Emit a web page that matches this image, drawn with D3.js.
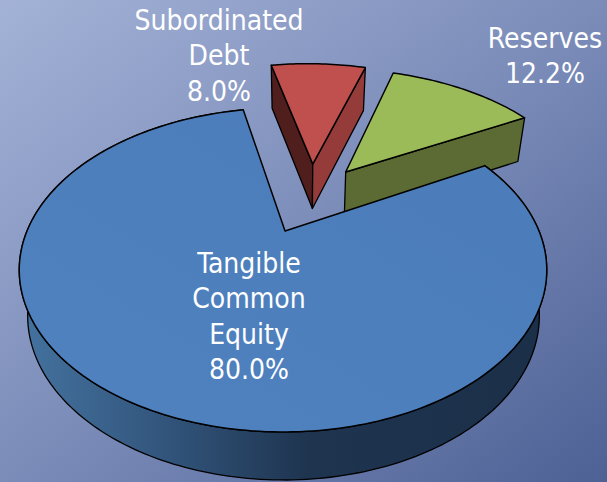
<!DOCTYPE html>
<html>
<head>
<meta charset="utf-8">
<script src="https://cdnjs.cloudflare.com/ajax/libs/d3/7.8.5/d3.min.js"></script>
<style>
html, body { margin: 0; padding: 0; overflow: hidden; }
text { font-family: "DejaVu Sans Condensed", "DejaVu Sans", sans-serif; fill: #fff; text-anchor: middle; }
</style>
</head>
<body>
<div id="chart"></div>
<script>
var categories = ["Tangible Common Equity", "Subordinated Debt", "Reserves"];
var values = [80.0, 8.0, 12.2];
var labelLines = [["Tangible", "Common", "Equity"], ["Subordinated", "Debt"], ["Reserves"]];

var width = 607;
var height = 482;

var svg = d3.select("#chart").append("svg")
    .attr("width", width)
    .attr("height", height)
    .style("display", "block");

// Gradients
var defs = svg.append("defs");
function addGradient(id, x1, y1, x2, y2, stops) {
    var g = defs.append("linearGradient")
        .attr("id", id)
        .attr("x1", x1).attr("y1", y1).attr("x2", x2).attr("y2", y2);
    stops.forEach(s => g.append("stop").attr("offset", s[0]).attr("stop-color", s[1]));
}
addGradient("bg", "0%", "0%", "100%", "100%", [[0, "#a3b2d6"], [0.5, "#7b8cb9"], [1, "#4d6195"]]);
addGradient("blueWall", "0", "0", "1", "0", [[0, "#44739f"], [0.25, "#345880"], [0.55, "#1e344f"], [1, "#1b2f48"]]);
addGradient("blueTop", "0%", "100%", "100%", "0%", [[0, "#5082c0"], [1, "#4b7cb9"]]);

svg.append("rect")
    .attr("width", width)
    .attr("height", height)
    .attr("fill", "url(#bg)");

// Perspective of the pie plane: the centre sits above the middle of the ellipse
var centerX = 283, centerY = 231;
var radiusX = 256, radiusY = 152.6, persp = 0.2407;

function project(u, v) {
    var w = 1 - persp * v;
    return [centerX + radiusX * u / w, centerY + radiusY * v / w];
}

// Where the bottom edge of the pie falls for a point of the top face
function lower(p) {
    var depth = 43 + (p[1] - 66) * 0.0137;
    return [300 + (p[0] - 300) * 0.97, p[1] + depth];
}

var pieAngles = d3.pie()
    .sort(null)
    .startAngle(61.5 * Math.PI / 180)
    .endAngle((61.5 + 360) * Math.PI / 180)(values);

// Slice pull-out in plane units, same order as categories
var explode = [[0, 0], [0.13, -0.49], [0.27, -0.426]];

function rimPoints(i) {
    var d = pieAngles[i];
    var n = Math.ceil((d.endAngle - d.startAngle) / 0.02);
    return d3.range(n + 1).map(k => {
        var a = d.startAngle + (d.endAngle - d.startAngle) * k / n;
        return project(Math.sin(a) + explode[i][0], -Math.cos(a) + explode[i][1]);
    });
}

var line = d3.line();

function closed(pts) {
    return line(pts) + "Z";
}

function wall(a, b, fill) {
    svg.append("path")
        .attr("d", closed([a, b, lower(b), lower(a)]))
        .attr("fill", fill)
        .attr("stroke", "#000")
        .attr("stroke-width", 1.3)
        .attr("stroke-linejoin", "round");
}

function topFace(apex, pts, fill) {
    svg.append("path")
        .attr("d", closed([apex].concat(pts)))
        .attr("fill", fill)
        .attr("stroke", "#000")
        .attr("stroke-width", 1.5)
        .attr("stroke-linejoin", "round");
}

// Subordinated debt
var redPts = rimPoints(1);
var redApex = project(explode[1][0], explode[1][1]);
wall(redApex, redPts[0], "#4f1e1d");
wall(redApex, redPts[redPts.length - 1], "#953c3a");
topFace(redApex, redPts, "#c0504d");

// Reserves
var greenPts = rimPoints(2);
var greenApex = project(explode[2][0], explode[2][1]);
wall(greenApex, greenPts[greenPts.length - 1], "#5b6b33");
topFace(greenApex, greenPts, "#9bbb59");

// Tangible common equity, drawn last since it covers the foot of the green wall
var bluePts = rimPoints(0);
var blueApex = project(0.008, 0);
svg.append("path")
    .attr("d", closed(bluePts.concat(bluePts.map(lower).reverse())))
    .attr("fill", "url(#blueWall)")
    .attr("stroke", "#000")
    .attr("stroke-width", 1.3);
topFace(blueApex, bluePts, "url(#blueTop)");

// Labels
var labelAnchor = [[249, 273], [219, 30], [545, 48]];
var lineStep = 35.3;
var fmt = d3.format(".1f");

categories.forEach((c, i) => {
    var lines = labelLines[i].concat(fmt(values[i]) + "%");
    var t = svg.append("text")
        .attr("font-size", 28);
    lines.forEach((s, j) => {
        t.append("tspan")
            .attr("x", labelAnchor[i][0])
            .attr("y", labelAnchor[i][1] + j * lineStep)
            .text(s);
    });
});
</script>
</body>
</html>
